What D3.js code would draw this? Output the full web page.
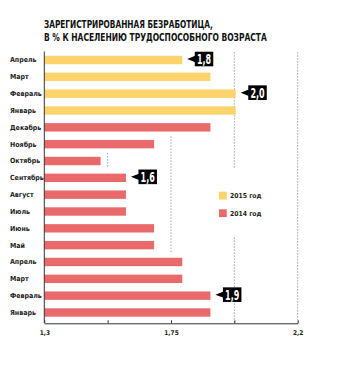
<!DOCTYPE html>
<html>
<head>
<meta charset="utf-8">
<script src="https://cdn.jsdelivr.net/npm/d3@7"></script>
<style>
  html, body { margin: 0; padding: 0; background: #fff; }
  svg { display: block; }
</style>
</head>
<body>
<svg id="chart" width="347" height="367"></svg>
<script>
// ---- data ----
const titleLines = ["ЗАРЕГИСТРИРОВАННАЯ БЕЗРАБОТИЦА,", "В % К НАСЕЛЕНИЮ ТРУДОСПОСОБНОГО ВОЗРАСТА"];
const categories = ["2015-04","2015-03","2015-02","2015-01","2014-12","2014-11","2014-10","2014-09","2014-08","2014-07","2014-06","2014-05","2014-04","2014-03","2014-02","2014-01"];
const monthLabels = ["Апрель","Март","Февраль","Январь","Декабрь","Ноябрь","Октябрь","Сентябрь","Август","Июль","Июнь","Май","Апрель","Март","Февраль","Январь"];
const years = ["2015","2015","2015","2015","2014","2014","2014","2014","2014","2014","2014","2014","2014","2014","2014","2014"];
const values = [1.79,1.89,1.98,1.98,1.89,1.69,1.50,1.59,1.59,1.59,1.69,1.69,1.79,1.79,1.89,1.89];
const calloutCategories = ["2015-04","2015-02","2014-09","2014-02"];
const tickValues = [1.3,1.525,1.75,1.975,2.2];
const tickLabels = ["1,3","","1,75","","2,2"];
const legendYears = ["2015","2014"];
const legendLabels = ["2015 год","2014 год"];
const gridSegments = [
  {value:1.525, from:"2014-10", to:"2014-10"},
  {value:1.75,  from:"2014-11", to:"2014-05"},
  {value:1.975, from:"2015-04", to:"2014-10"},
  {value:1.975, from:"2014-05", to:"2014-01"},
  {value:2.2,   from:"2015-04", to:"2014-01"}
];

// ---- layout ----
const colors = {"2015":"#fdd36b","2014":"#ea6a6c"};
const svg = d3.select("#chart");
const x = d3.scaleLinear().domain([1.3, 2.2]).range([44.3, 297.7]);
const y = d3.scaleBand().domain(categories).range([51.6, 320.9]).paddingInner(0.5).paddingOuter(0.25);
const step = y.step();
const axisY = 323.3;

// title (width fitted to reference, stretched vertically like a condensed face)
const titleWidths = [169, 223];
svg.append("g").selectAll("text").data(titleLines).join("text")
  .attr("transform", (d,i) => `translate(44,${28.4 + i*12.7}) scale(1,1.25)`)
  .attr("font-family", "'Liberation Sans Narrow', 'DejaVu Sans Condensed', sans-serif")
  .attr("font-weight", "bold")
  .attr("font-size", 11.8)
  .attr("fill", "#111")
  .text(d => d)
  .each(function(d,i) {
    const w = this.getComputedTextLength();
    if (w > 0) d3.select(this).attr("font-size", Math.min(13, 11.8 * titleWidths[i] / w));
  });

// grid segments
svg.append("g").selectAll("line").data(gridSegments).join("line")
  .attr("x1", d => x(d.value)).attr("x2", d => x(d.value))
  .attr("y1", d => y(d.from) - step*0.2)
  .attr("y2", d => d.to === categories[categories.length-1] ? axisY : y(d.to) + y.bandwidth() + step*0.2)
  .attr("stroke", "#777")
  .attr("stroke-width", 1)
  .attr("stroke-dasharray", "1,2");

// bars
svg.append("g").selectAll("rect").data(categories).join("rect")
  .attr("x", x(1.3))
  .attr("y", d => y(d))
  .attr("width", (d,i) => x(values[i]) - x(1.3))
  .attr("height", y.bandwidth())
  .attr("fill", (d,i) => colors[years[i]]);

// month labels
svg.append("g").selectAll("text").data(categories).join("text")
  .attr("x", 10)
  .attr("y", d => y(d) + y.bandwidth()/2)
  .attr("dy", "0.35em")
  .attr("font-family", "'DejaVu Sans Condensed', 'DejaVu Sans', sans-serif")
  .attr("font-weight", "bold")
  .attr("font-size", 7)
  .attr("fill", "#222")
  .text((d,i) => monthLabels[i]);

// vertical axis line
svg.append("line")
  .attr("x1", x(1.3)).attr("x2", x(1.3))
  .attr("y1", y.range()[0]).attr("y2", axisY)
  .attr("stroke", "#333").attr("stroke-width", 1);

// bottom axis
const axis = d3.axisBottom(x).tickValues(tickValues)
  .tickSizeInner(-3).tickSizeOuter(0)
  .tickFormat((d,i) => tickLabels[i]);
const gAxis = svg.append("g").attr("transform", `translate(0,${axisY})`).call(axis);
gAxis.select(".domain").attr("stroke", "#333");
gAxis.selectAll(".tick line").attr("stroke", "#333");
gAxis.selectAll(".tick text")
  .attr("y", 7).attr("dy", "0.71em")
  .attr("font-family", "'DejaVu Sans Condensed', 'DejaVu Sans', sans-serif")
  .attr("font-weight", "bold")
  .attr("font-size", 6.5)
  .attr("fill", "#222");

// callouts
const fmt = v => d3.format(".1f")(v).replace(".", ",");
const callouts = svg.append("g").selectAll("g").data(calloutCategories).join("g")
  .attr("transform", d => {
    const i = categories.indexOf(d);
    return `translate(${x(values[i]) + 5},${y(d) + y.bandwidth()/2 - 1})`;
  });
callouts.append("path")
  .attr("d", "M0,0 L8,-3.2 L8,3.2 Z")
  .attr("fill", "#000");
callouts.append("rect")
  .attr("x", 7.5).attr("y", -7.3).attr("width", 18.5).attr("height", 14.6)
  .attr("fill", "#000");
callouts.append("text")
  .attr("transform", "translate(16.75,4.9) scale(0.85,1.35)")
  .attr("text-anchor", "middle")
  .attr("font-family", "'Liberation Sans Narrow', 'DejaVu Sans Condensed', sans-serif")
  .attr("font-weight", "bold")
  .attr("font-size", 10.5)
  .attr("fill", "#fff")
  .text(d => fmt(values[categories.indexOf(d)]));

// legend
const legend = svg.append("g").selectAll("g").data(legendYears).join("g")
  .attr("transform", (d,i) => `translate(219,${191.7 + i*17.6})`);
legend.append("rect")
  .attr("width", 7.8).attr("height", 7.8)
  .attr("fill", d => colors[d]);
legend.append("text")
  .attr("x", 11).attr("y", 4).attr("dy", "0.35em")
  .attr("font-family", "'DejaVu Sans Condensed', 'DejaVu Sans', sans-serif")
  .attr("font-weight", "bold")
  .attr("font-size", 6.8)
  .attr("fill", "#222")
  .text((d,i) => legendLabels[i]);
</script>
</body>
</html>
